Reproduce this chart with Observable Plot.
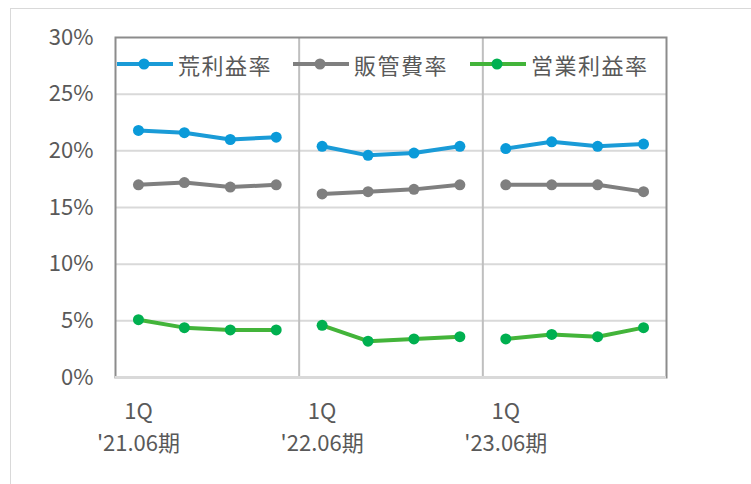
<!DOCTYPE html>
<html><head><meta charset="utf-8">
<script src="https://cdn.jsdelivr.net/npm/d3@7"></script>
<script src="https://cdn.jsdelivr.net/npm/@observablehq/plot@0.6"></script>
<style>
html,body{margin:0;padding:0;background:#fff;}
#wrap{position:relative;width:751px;height:484px;overflow:hidden;font-family:"Noto Sans CJK JP","Noto Sans",sans-serif;color:#595959;}
#border{position:absolute;left:10px;top:8px;width:800px;height:600px;border:1.5px solid #d9d9d9;box-sizing:border-box;}
#chart{position:absolute;left:0;top:0;}
.item{position:absolute;top:48px;display:flex;align-items:center;height:32px;}
.item span{font-size:22px;letter-spacing:1.5px;color:#595959;margin-left:5px;line-height:32px;}
</style></head>
<body>
<div id="wrap"><div id="border"></div><div id="chart"></div><div id="legend"></div></div>
<script>
const periods = ["'21.06期", "'22.06期", "'23.06期"];
const quarters = ["1Q", "2Q", "3Q", "4Q"];
const seriesNames = ["荒利益率", "販管費率", "営業利益率"];
const lineColors = ["#1a9bd7", "#7f7f7f", "#43b43a"];
const dotColors = ["#0a9ad9", "#7f7f7f", "#00b050"];
const grossMargin = [21.8, 21.6, 21.0, 21.2, 20.4, 19.6, 19.8, 20.4, 20.2, 20.8, 20.4, 20.6];
const sgaRatio    = [17.0, 17.2, 16.8, 17.0, 16.2, 16.4, 16.6, 17.0, 17.0, 17.0, 17.0, 16.4];
const opMargin    = [5.1, 4.4, 4.2, 4.2, 4.6, 3.2, 3.4, 3.6, 3.4, 3.8, 3.6, 4.4];
const yTicks = [0, 5, 10, 15, 20, 25, 30];

const seriesValues = [grossMargin, sgaRatio, opMargin];
const rows = [];
seriesValues.forEach((vals, s) => vals.forEach((v, i) => rows.push({
  s, i, v: v / 100, period: periods[Math.floor(i / quarters.length)], q: quarters[i % quarters.length]
})));
const nQ = quarters.length;
const boundaries = periods.slice(1).map((_, k) => (k + 1) * nQ - 0.5);
const firstTicks = periods.map((_, k) => k * nQ);
const gridVals = yTicks.slice(1, -1).map(t => t / 100);

const marks = [
  Plot.ruleY(gridVals, {stroke: "#d9d9d9", strokeWidth: 2}),
  Plot.ruleX(boundaries, {stroke: "#bfbfbf", strokeWidth: 2}),
  Plot.frame({stroke: "#8c8c8c", strokeWidth: 2}),
  Plot.ruleY([0], {stroke: "#d9d9d9", strokeWidth: 3}),
  Plot.axisY({ticks: yTicks.map(t => t / 100), tickFormat: d => Math.round(d * 100) + "%", tickSize: 0, tickPadding: 22, fontSize: 22, fill: "#595959", label: null}),
  Plot.axisX({ticks: firstTicks, tickFormat: i => quarters[0] + "\n" + periods[i / nQ], tickSize: 0, tickPadding: 19, fontSize: 22, lineHeight: 1.45, fill: "#595959", label: null})
];
seriesValues.forEach((_, s) => {
  const d = rows.filter(r => r.s === s);
  marks.push(Plot.line(d, {x: "i", y: "v", z: "period", stroke: lineColors[s], strokeWidth: 4}));
  marks.push(Plot.dot(d, {x: "i", y: "v", r: 5.5, fill: dotColors[s], stroke: "none"}));
});

const plot = Plot.plot({
  width: 751, height: 484,
  marginLeft: 115, marginRight: 85, marginTop: 37, marginBottom: 107,
  style: {fontFamily: '"Noto Sans CJK JP","Noto Sans",sans-serif', background: "transparent", overflow: "visible"},
  x: {type: "linear", domain: [-0.5, rows.length / seriesValues.length - 0.5], axis: null},
  y: {domain: [0, yTicks[yTicks.length - 1] / 100], axis: null},
  marks
});
document.getElementById("chart").appendChild(plot);

const legendLeft = [117, 293, 470];
const legend = document.getElementById("legend");
seriesNames.forEach((name, s) => {
  const div = document.createElement("div");
  div.className = "item";
  div.style.left = legendLeft[s] + "px";
  div.innerHTML = `<svg width="56" height="14"><line x1="0" x2="56" y1="7" y2="7" stroke="${lineColors[s]}" stroke-width="4"/><circle cx="27" cy="7" r="5.5" fill="${dotColors[s]}"/></svg><span>${name}</span>`;
  legend.appendChild(div);
});
</script>
</body></html>
